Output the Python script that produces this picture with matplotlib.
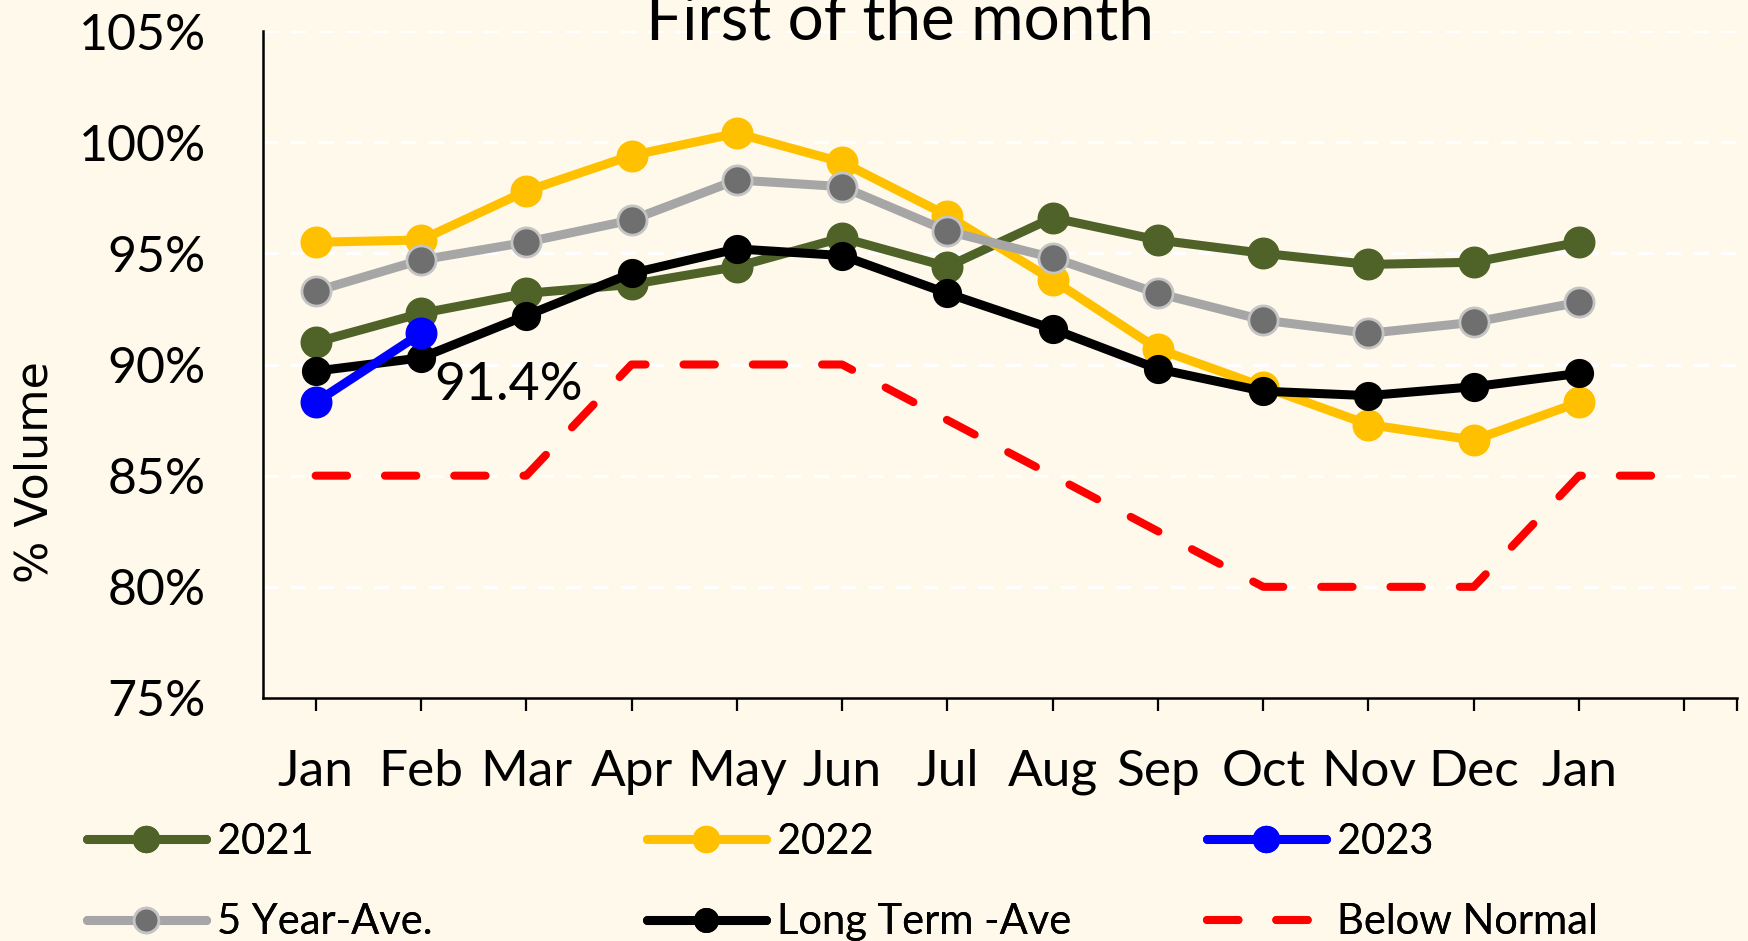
import numpy as np
import matplotlib
matplotlib.use("Agg")
import matplotlib.pyplot as plt
from matplotlib.lines import Line2D

# data
months = ['Jan', 'Feb', 'Mar', 'Apr', 'May', 'Jun', 'Jul', 'Aug', 'Sep', 'Oct', 'Nov', 'Dec', 'Jan']
y2021 = [91.0, 92.3, 93.2, 93.6, 94.4, 95.7, 94.4, 96.6, 95.6, 95.0, 94.5, 94.6, 95.5]
y2022 = [95.5, 95.6, 97.8, 99.4, 100.4, 99.1, 96.7, 93.8, 90.7, 89.0, 87.3, 86.6, 88.3]
y2023 = [88.3, 91.4]
five_year = [93.3, 94.7, 95.5, 96.5, 98.3, 98.0, 96.0, 94.8, 93.2, 92.0, 91.4, 91.9, 92.8]
long_term = [89.7, 90.3, 92.2, 94.1, 95.2, 94.9, 93.2, 91.6, 89.8, 88.8, 88.6, 89.0, 89.6]
below_normal = [85, 85, 85, 90, 90, 90, 87.5, 85, 82.5, 80, 80, 80, 85, 85]
yticks = [75, 80, 85, 90, 95, 100, 105]
ytick_labels = ['75%', '80%', '85%', '90%', '95%', '100%', '105%']
last_label = '91.4%'

bg = '#FFF9EB'
red_dash = (0, (3.9, 4.7))

# name -> style
styles = {
    '2021': dict(color='#4F6228', lw=6.5, marker='o', ms=22),
    '2022': dict(color='#FFC000', lw=6.5, marker='o', ms=22),
    '2023': dict(color='#0000FF', lw=6.5, marker='o', ms=22),
    '5 Year-Ave.': dict(color='#A6A6A6', lw=6.5, marker='o', ms=21, mfc='#6f6f6f',
                        mec='#c4c4c4', mew=2),
    'Long Term -Ave': dict(color='black', lw=6.5, marker='o', ms=20),
    'Below Normal': dict(color='#FF0000', lw=5.8, ls=red_dash, dash_capstyle='round'),
}

plt.rcParams['font.family'] = ['Lato', 'DejaVu Sans']

fig = plt.figure(figsize=(17.48, 9.41), dpi=100, facecolor=bg)
ax = fig.add_axes([263 / 1748, 1 - 698 / 941, (1737 - 263) / 1748, (698 - 31) / 941])
ax.set_facecolor(bg)

for v in yticks[1:]:
    ax.axhline(v, color='white', lw=2.2, ls=(0, (5, 4)), zorder=0)

x = np.arange(len(months))
ax.plot(np.arange(len(below_normal)), below_normal, zorder=1, **styles['Below Normal'])
ax.plot(x, y2021, zorder=2, **styles['2021'])
ax.plot(x, y2022, zorder=3, **styles['2022'])
ax.plot(x, five_year, zorder=4, **styles['5 Year-Ave.'])
ax.plot(x, long_term, zorder=5, **styles['Long Term -Ave'])
ax.plot(np.arange(len(y2023)), y2023, zorder=6, **styles['2023'])

ax.text(1.13, 88.4, last_label, fontsize=38.5, va='baseline', ha='left', zorder=7)

ax.set_xlim(-0.5, 13.5)
ax.set_ylim(75, 105)
ax.set_yticks(yticks)
ax.set_yticklabels(ytick_labels)
ax.set_xticks(np.arange(len(below_normal)))
ax.set_xticklabels(months + [''])
ax.set_xticks([13.5], minor=True)

for s in ['top', 'right']:
    ax.spines[s].set_visible(False)
for s in ['left', 'bottom']:
    ax.spines[s].set_linewidth(1.8)

ax.tick_params(axis='y', length=0, pad=41, labelsize=36)
ax.tick_params(axis='x', which='both', direction='out', length=9.5, width=1.6,
               pad=27, labelsize=37)

fig.text(900 / 1748, 1 - 39 / 941, 'First of the month', fontsize=46,
         ha='center', va='baseline')
fig.text(35 / 1748, 1 - 472 / 941, '% Volume', fontsize=32, rotation=90,
         ha='center', va='center', family='DejaVu Sans')

# legend: three columns of two rows
columns = [['2021', '5 Year-Ave.'], ['2022', 'Long Term -Ave'], ['2023', 'Below Normal']]
col_x = [87, 647, 1207]
for cx, col in zip(col_x, columns):
    hs = []
    for name in col:
        st = dict(styles[name])
        if 'ms' in st:
            st['ms'] = st['ms'] * 0.85
        hs.append(Line2D([], [], solid_capstyle='round', **st))
    leg = fig.legend(hs, col, loc='center left',
                     bbox_to_anchor=(cx / 1748, 1 - 882 / 941),
                     frameon=False, fontsize=30, handlelength=2.85,
                     handletextpad=0.26, labelspacing=1.02, borderpad=0,
                     borderaxespad=0)
    fig.add_artist(leg)

fig.savefig('out.png', dpi=100, facecolor=bg)
